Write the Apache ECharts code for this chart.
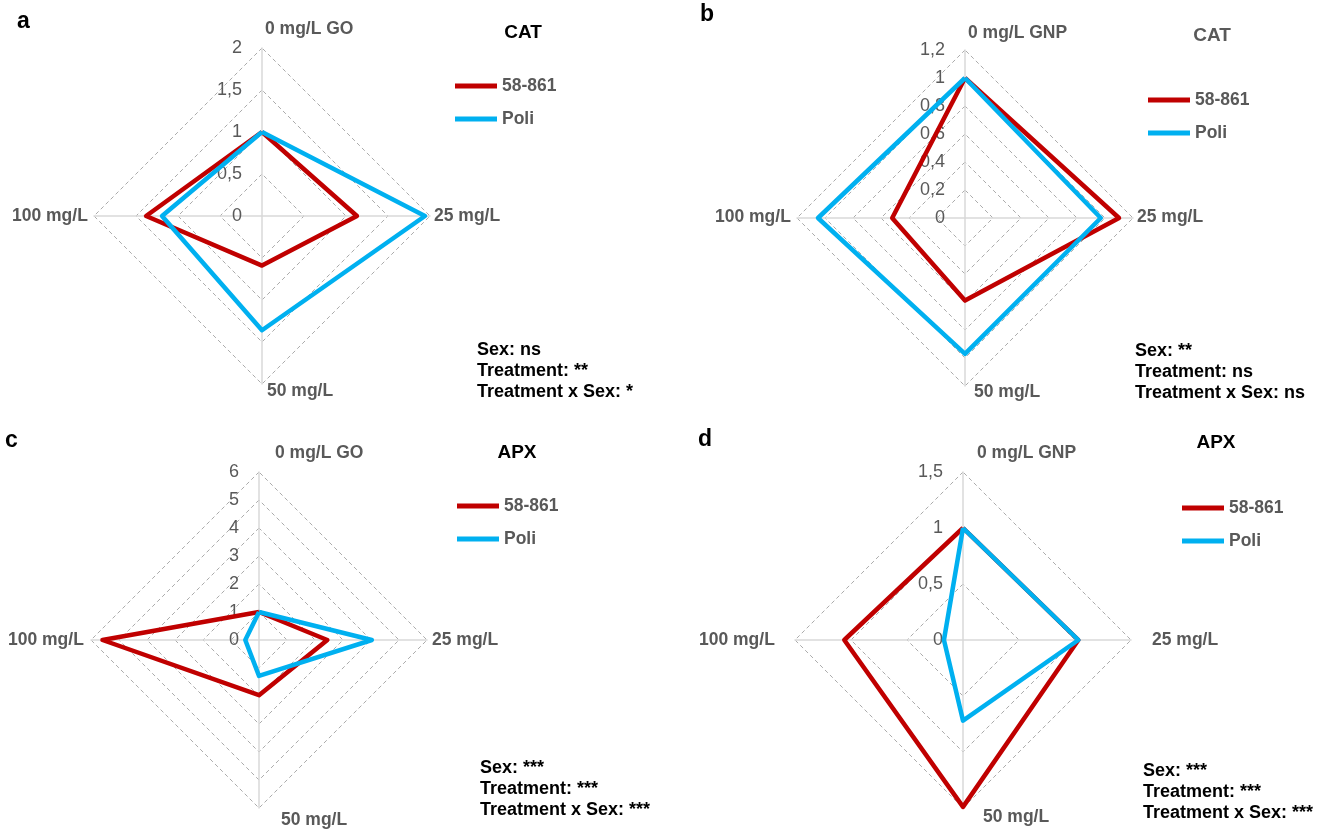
<!DOCTYPE html>
<html>
<head>
<meta charset="utf-8">
<script src="https://cdn.jsdelivr.net/npm/echarts@6/dist/echarts.min.js"></script>
<style>
  html, body { margin: 0; padding: 0; background: #fff; }
  #main { width: 1328px; height: 830px; }
</style>
</head>
<body>
<div id="main"></div>
<script>
// categories (order: 0, 25, 50, 100 mg/L)
const catGO = ['0 mg/L GO', '25 mg/L', '50 mg/L', '100 mg/L'];
const catGNP = ['0 mg/L GNP', '25 mg/L', '50 mg/L', '100 mg/L'];
const seriesNames = ['58-861', 'Poli'];

// relative activity, same order as categories
const catGO_5861 = [1, 1.13, 0.59, 1.38];
const catGO_poli = [1, 1.94, 1.36, 1.19];
const catGNP_5861 = [1, 1.10, 0.59, 0.52];
const catGNP_poli = [1, 0.97, 0.97, 1.05];
const apxGO_5861 = [1, 2.44, 1.97, 5.59];
const apxGO_poli = [1, 4.03, 1.28, 0.49];
const apxGNP_5861 = [1, 1.03, 1.49, 1.06];
const apxGNP_poli = [1, 1.03, 0.72, 0.17];

// tick labels
const ticksA = [0, 0.5, 1, 1.5, 2];
const ticksB = [0, 0.2, 0.4, 0.6, 0.8, 1, 1.2];
const ticksC = [0, 1, 2, 3, 4, 5, 6];
const ticksD = [0, 0.5, 1, 1.5];

const statsA = ['Sex: ns', 'Treatment: **', 'Treatment x Sex: *'];
const statsB = ['Sex: **', 'Treatment: ns', 'Treatment x Sex: ns'];
const statsC = ['Sex: ***', 'Treatment: ***', 'Treatment x Sex: ***'];
const statsD = ['Sex: ***', 'Treatment: ***', 'Treatment x Sex: ***'];

const FONT = '"Liberation Sans", Arial, sans-serif';
const RED = '#c00000';
const BLUE = '#00b0f0';
const GREY = '#595959';

// radar draws counter-clockwise from the top: top, left, bottom, right
const order = [0, 3, 2, 1];

const panels = [
  { letter: 'a', letterPos: [17, 22], title: 'CAT', titleColor: '#000', titlePos: [523, 33],
    cats: catGO, red: catGO_5861, blue: catGO_poli, ticks: ticksA, stats: statsA,
    center: [262, 216], legend: [455, 77], statsPos: [477, 340],
    names: [[265, 29], [434, 216], [267, 391], [12, 216]] },
  { letter: 'b', letterPos: [700, 15], title: 'CAT', titleColor: GREY, titlePos: [1212, 36],
    cats: catGNP, red: catGNP_5861, blue: catGNP_poli, ticks: ticksB, stats: statsB,
    center: [965, 218], legend: [1148, 91], statsPos: [1135, 341],
    names: [[968, 33], [1137, 217], [974, 392], [715, 217]] },
  { letter: 'c', letterPos: [5, 441], title: 'APX', titleColor: '#000', titlePos: [517, 453],
    cats: catGO, red: apxGO_5861, blue: apxGO_poli, ticks: ticksC, stats: statsC,
    center: [259, 640], legend: [457, 497], statsPos: [480, 758],
    names: [[275, 453], [432, 640], [281, 820], [8, 640]] },
  { letter: 'd', letterPos: [698, 440], title: 'APX', titleColor: '#000', titlePos: [1216, 443],
    cats: catGNP, red: apxGNP_5861, blue: apxGNP_poli, ticks: ticksD, stats: statsD,
    center: [963, 640], legend: [1182, 499], statsPos: [1143, 761],
    names: [[977, 453], [1152, 640], [983, 817], [699, 640]] }
];

const fmt = v => String(Math.round(v * 10) / 10).replace('.', ',');

const radar = panels.map(p => ({
  center: p.center,
  radius: 168,
  startAngle: 90,
  shape: 'polygon',
  splitNumber: p.ticks.length - 1,
  indicator: order.map((k, i) => {
    const ind = { name: p.cats[k], min: p.ticks[0], max: p.ticks[p.ticks.length - 1] };
    if (i === 0) ind.axisLabel = { show: true };
    return ind;
  }),
  axisName: { show: false },
  axisLine: { lineStyle: { color: '#d9d9d9', width: 1.5 } },
  axisTick: { show: false },
  splitLine: { lineStyle: { color: '#ababab', width: 1, type: [4, 3] } },
  splitArea: { show: false },
  axisLabel: { show: false, margin: 20, color: GREY, fontSize: 18, fontFamily: FONT, formatter: fmt }
}));

const series = panels.map((p, idx) => ({
  type: 'radar',
  radarIndex: idx,
  symbol: 'none',
  silent: true,
  data: [
    { name: seriesNames[0], value: order.map(k => p.red[k]),
      lineStyle: { color: RED, width: 4.5 }, itemStyle: { color: RED } },
    { name: seriesNames[1], value: order.map(k => p.blue[k]),
      lineStyle: { color: BLUE, width: 4.5 }, itemStyle: { color: BLUE } }
  ]
}));

const legend = panels.map(p => ({
  data: seriesNames,
  orient: 'vertical',
  left: p.legend[0],
  top: p.legend[1],
  padding: 0,
  itemWidth: 42,
  itemHeight: 5,
  itemGap: 15,
  icon: 'rect',
  selectedMode: false,
  textStyle: { color: GREY, fontSize: 17.5, fontWeight: 'bold', fontFamily: FONT }
}));

const graphic = [];
panels.forEach(p => {
  graphic.push({ type: 'text', x: p.letterPos[0], y: p.letterPos[1],
    style: { text: p.letter, font: 'bold 23px ' + FONT, fill: '#000', verticalAlign: 'middle' } });
  graphic.push({ type: 'text', x: p.titlePos[0], y: p.titlePos[1],
    style: { text: p.title, font: 'bold 19px ' + FONT, fill: p.titleColor, align: 'center', verticalAlign: 'middle' } });
  p.cats.forEach((c, i) => {
    graphic.push({ type: 'text', x: p.names[i][0], y: p.names[i][1],
      style: { text: c, font: 'bold 17.5px ' + FONT, fill: GREY, align: 'left', verticalAlign: 'middle' } });
  });
  graphic.push({ type: 'text', x: p.statsPos[0], y: p.statsPos[1],
    style: { text: p.stats.join('\n'), font: 'bold 18px ' + FONT, fill: '#000', lineHeight: 21, verticalAlign: 'top' } });
});

const chart = echarts.init(document.getElementById('main'));
chart.setOption({
  backgroundColor: '#fff',
  animation: false,
  radar: radar,
  legend: legend,
  series: series,
  graphic: graphic
});
</script>
</body>
</html>
